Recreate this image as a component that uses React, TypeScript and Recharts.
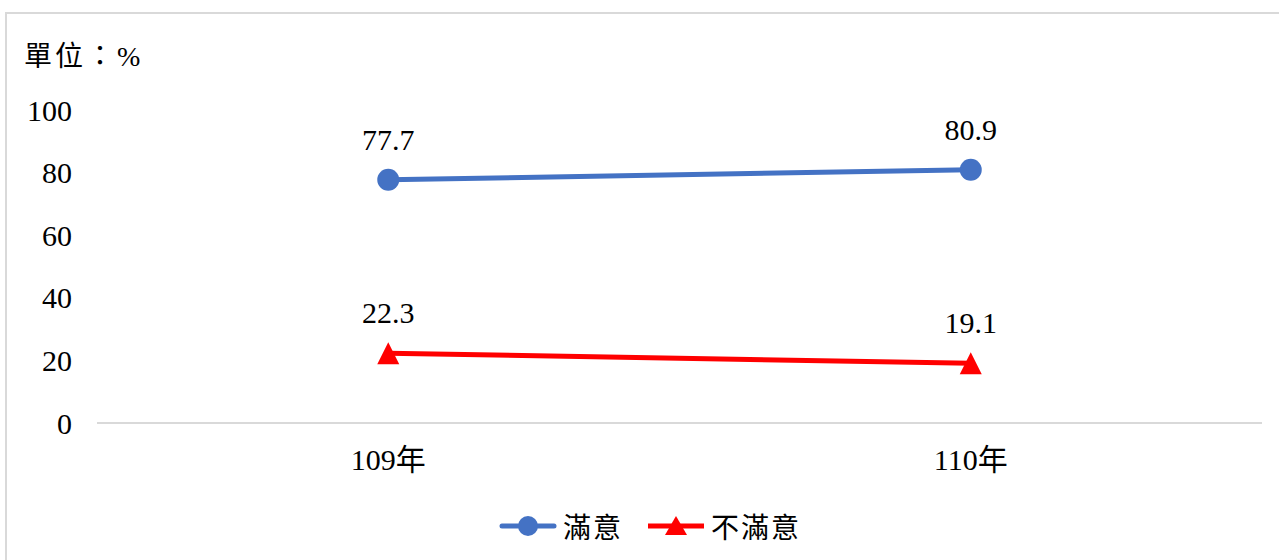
import { LineChart, Line, XAxis, YAxis, LabelList } from "recharts"

const years = ["109年", "110年"]
const satisfied = [77.7, 80.9]
const unsatisfied = [22.3, 19.1]
const yTicks = [0, 20, 40, 60, 80, 100]

const data = years.map((year, i) => ({
  year,
  satisfied: satisfied[i],
  unsatisfied: unsatisfied[i],
}))

const FONT = '"Liberation Serif", "Times New Roman", "Noto Sans CJK TC", serif'
const BLUE = "#4472C4"
const RED = "#FF0000"
const FS = 30

function Triangle(props: any) {
  const { cx, cy } = props
  if (cx == null || cy == null) return null
  return <path d={`M${cx},${cy - 11} L${cx + 11},${cy + 11} L${cx - 11},${cy + 11} Z`} fill={RED} />
}

function ChartLegend() {
  return (
    <div style={{ display: "flex", justifyContent: "center", alignItems: "center", fontFamily: FONT, fontSize: 28, color: "#000" }}>
      <svg width={58} height={24} style={{ marginRight: 6 }}>
        <line x1={3} y1={12} x2={55} y2={12} stroke={BLUE} strokeWidth={5} strokeLinecap="round" />
        <circle cx={29} cy={12} r={10} fill={BLUE} />
      </svg>
      <span style={{ marginRight: 24, letterSpacing: 2 }}>滿意</span>
      <svg width={58} height={24} style={{ marginRight: 6 }}>
        <line x1={1} y1={12} x2={57} y2={12} stroke={RED} strokeWidth={5} />
        <path d="M29,2 L40,21 L18,21 Z" fill={RED} />
      </svg>
      <span style={{ letterSpacing: 2 }}>不滿意</span>
    </div>
  )
}

export default function App() {
  return (
    <div style={{ position: "absolute", left: 0, top: 0, width: 1279, height: 560, overflow: "hidden", background: "#fff" }}>
      <div style={{ position: "absolute", left: 5, top: 12, width: 1320, height: 620, border: "2px solid #d9d9d9" }} />
      <div style={{ position: "absolute", left: 24, top: 34, fontFamily: FONT, fontSize: 28, color: "#000", letterSpacing: 3 }}>單位：%</div>
      <div style={{ position: "absolute", left: 0, top: 0 }}>
        <LineChart width={1279} height={560} data={data} margin={{ top: 110, right: 17, bottom: 77, left: 0 }}>
          <XAxis
            dataKey="year"
            scale="band"
            axisLine={{ stroke: "#d9d9d9", strokeWidth: 2 }}
            tickLine={false}
            tickSize={0}
            tickMargin={26}
            height={60}
            tick={{ fill: "#000", fontSize: FS, fontFamily: FONT }}
          />
          <YAxis
            domain={[0, 100]}
            ticks={yTicks}
            width={97}
            axisLine={false}
            tickLine={false}
            tickSize={0}
            tickMargin={25}
            tick={{ fill: "#000", fontSize: FS, fontFamily: FONT }}
          />
          <Line
            dataKey="satisfied"
            name="滿意"
            stroke={BLUE}
            strokeWidth={5}
            dot={{ r: 11, fill: BLUE, stroke: "none" }}
            isAnimationActive={false}
          >
            <LabelList dataKey="satisfied" position="top" offset={30} style={{ fill: "#000", fontSize: FS, fontFamily: FONT }} />
          </Line>
          <Line
            dataKey="unsatisfied"
            name="不滿意"
            stroke={RED}
            strokeWidth={5}
            dot={<Triangle />}
            isAnimationActive={false}
          >
            <LabelList dataKey="unsatisfied" position="top" offset={30} style={{ fill: "#000", fontSize: FS, fontFamily: FONT }} />
          </Line>
        </LineChart>
      </div>
      <div style={{ position: "absolute", left: 0, top: 506, width: 1300 }}>
        <ChartLegend />
      </div>
    </div>
  )
}
